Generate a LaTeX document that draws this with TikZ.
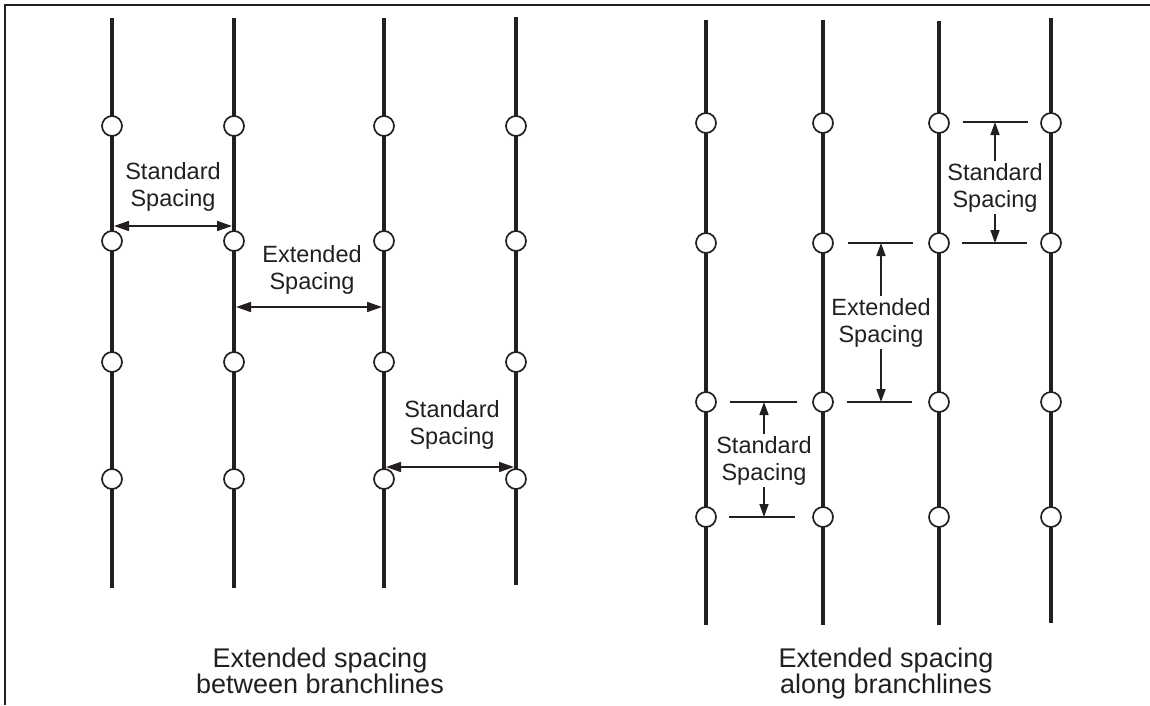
\documentclass[tikz,border=0pt]{standalone}
\usepackage{fontspec}
\setmainfont{Liberation Sans}
\usetikzlibrary{arrows.meta}
\definecolor{ink}{HTML}{231F20}
\begin{document}
\begin{tikzpicture}[x=1pt,y=-1pt,
  frameline/.style={line width=2pt, draw=ink},
  branch/.style={line width=4pt, draw=ink},
  head/.style={circle, draw=ink, fill=white, line width=1.7pt, minimum size=20pt, inner sep=0pt},
  dim/.style={line width=1.6pt, draw=ink},
  tip/.tip={Triangle[length=15pt,width=10pt]},
  stip/.tip={Triangle[length=13pt,width=9pt]},
  harrow/.style={dim, tip-tip},
  varrow/.style={dim, -stip},
  lbl/.style={font=\fontsize{23.5}{27}\selectfont, align=center, text=ink, inner sep=2pt},
  captext/.style={font=\fontsize{27}{26.7}\selectfont, align=center, text=ink, inner sep=0pt}]
\useasboundingbox (0,0) rectangle (1150,705);
% frame (top and left edges)
\coordinate (fTR) at (1150,5);
\coordinate (fTL) at (5,5);
\coordinate (fBL) at (5,705);
\draw[frameline] (fTR) -- (fTL) -- (fBL);

% ---------- left panel: branchlines ----------
\foreach \n/\x/\t/\b in {1/112/18/588, 2/234/18/588, 3/384/18/588, 4/516/17/585} {
  \coordinate (Lt\n) at (\x,\t);
  \coordinate (Lb\n) at (\x,\b);
  \draw[branch] (Lt\n) -- (Lb\n);
}
\foreach \n/\x in {1/112, 2/234, 3/384, 4/516} {
  \foreach \r/\y in {1/126, 2/241, 3/362, 4/479} {
    \node[head] (L\n-\r) at (\x,\y) {};
  }
}
% dimension arrows between branchlines
\coordinate (a1l) at (114,226); \coordinate (a1r) at (232,226);
\coordinate (a2l) at (236,307); \coordinate (a2r) at (382,307);
\coordinate (a3l) at (386,467); \coordinate (a3r) at (514,467);
\draw[harrow] (a1l) -- (a1r);
\draw[harrow] (a2l) -- (a2r);
\draw[harrow] (a3l) -- (a3r);
% (base anchor = baseline of the last line)
\node[lbl, anchor=base] (Ls1) at (173,206) {Standard\\Spacing};
\node[lbl, anchor=base] (Le) at (312,289) {Extended\\Spacing};
\node[lbl, anchor=base] (Ls2) at (452,444) {Standard\\Spacing};

% ---------- right panel: branchlines ----------
\foreach \n/\x/\t/\b in {1/706/20/625, 2/823/20/625, 3/939/21/625, 4/1051/18/623} {
  \coordinate (Rt\n) at (\x,\t);
  \coordinate (Rb\n) at (\x,\b);
  \draw[branch] (Rt\n) -- (Rb\n);
}
\foreach \n/\x in {1/706, 2/823, 3/939, 4/1051} {
  \foreach \r/\y in {1/123, 2/243, 3/402, 4/517} {
    \node[head] (R\n-\r) at (\x,\y) {};
  }
}
% extension lines
\coordinate (e1a) at (963,122); \coordinate (e1b) at (1028,122);
\coordinate (e2a) at (962,243); \coordinate (e2b) at (1027,243);
\coordinate (e3a) at (848,243); \coordinate (e3b) at (913,243);
\coordinate (e4a) at (847,402); \coordinate (e4b) at (912,402);
\coordinate (e5a) at (730,402); \coordinate (e5b) at (797,402);
\coordinate (e6a) at (729,517); \coordinate (e6b) at (795,517);
\foreach \k in {1,...,6} { \draw[dim] (e\k a) -- (e\k b); }
% labels
\node[lbl, anchor=base] (Rs1) at (995,207) {Standard\\Spacing};
\node[lbl, anchor=base] (Re) at (881,342) {Extended\\Spacing};
\node[lbl, anchor=base] (Rs2) at (764,480) {Standard\\Spacing};
% vertical arrows
\draw[varrow] (Rs1.north) -- (Rs1.north |- e1a);
\draw[varrow] (Rs1.south) -- (Rs1.south |- e2a);
\draw[varrow] (Re.north) -- (Re.north |- e3a);
\draw[varrow] (Re.south) -- (Re.south |- e4a);
\draw[varrow] (Rs2.north) -- (Rs2.north |- e5a);
\draw[varrow] (Rs2.south) -- (Rs2.south |- e6a);

% captions
\node[captext, anchor=base] (capL) at (320,693.7) {Extended spacing\\between branchlines};
\node[captext, anchor=base] (capR) at (886,693.7) {Extended spacing\\along branchlines};
\end{tikzpicture}
\end{document}
